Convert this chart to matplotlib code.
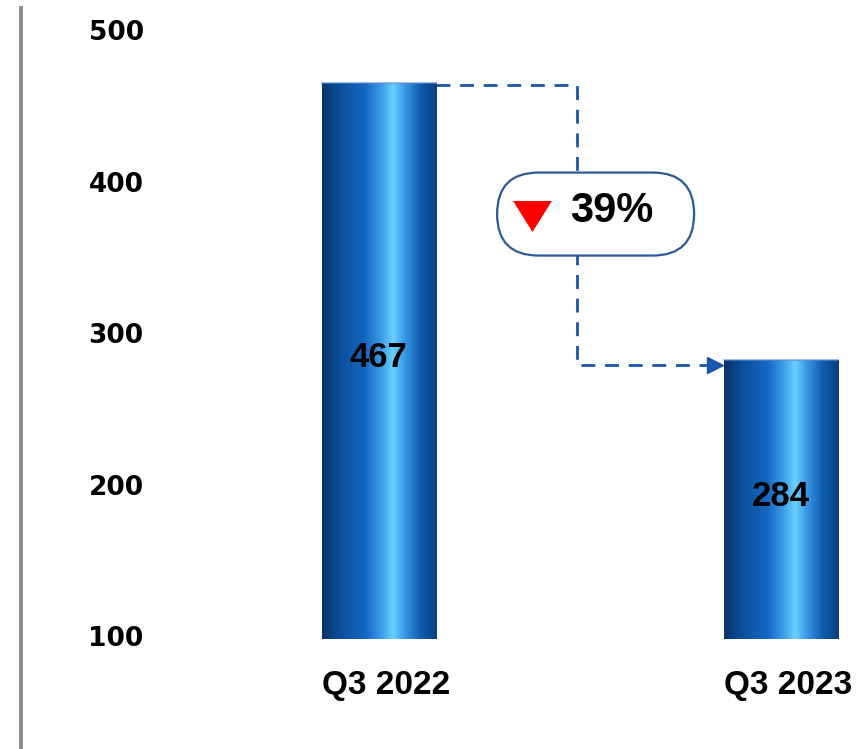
import numpy as np
import matplotlib.pyplot as plt
from matplotlib.colors import LinearSegmentedColormap
from matplotlib.patches import Rectangle, FancyBboxPatch
from matplotlib.transforms import IdentityTransform

categories = ['Q3 2022', 'Q3 2023']
values = [467, 284]
change_label = '39%'
yticks = [100, 200, 300, 400, 500]

base = 100
bar_w = 0.284
label_font = ['Liberation Sans', 'DejaVu Sans']

# cylinder-like shading across each bar
cyl = LinearSegmentedColormap.from_list('cyl', [
    (0.0, '#0a3268'), (0.15, '#0c4d9a'), (0.38, '#1668c4'), (0.52, '#3c9ee8'),
    (0.62, '#6ad0ff'), (0.72, '#3a98e6'), (0.86, '#0f5cb0'), (1.0, '#0a3f80')])

fig = plt.figure(figsize=(8.63, 7.49), dpi=100)
ax = fig.add_axes([21 / 863, 0, 1 - 21 / 863, 1])
xlim = (-0.890, 1.204)
ylim = (27.4, 521.8)

grad = np.linspace(0, 1, 256).reshape(1, -1)
for i, v in enumerate(values):
    x0 = i - bar_w / 2
    im = ax.imshow(grad, cmap=cyl, aspect='auto', extent=[x0, x0 + bar_w, base, v], zorder=2)
    rect = Rectangle((x0, base), bar_w, v - base, transform=ax.transData, facecolor='none', edgecolor='none')
    ax.add_patch(rect)
    im.set_clip_path(rect)
    ax.plot([x0, x0 + bar_w], [v, v], color='#5a8fd0', lw=1.2, alpha=0.7, zorder=3)
    ax.text(i, (base + v) / 2 + 2, str(v), ha='center', va='center',
            fontsize=25, fontweight='bold', family=label_font, zorder=4)
    ax.text(i + 0.018, 69.5, categories[i], ha='center', va='center', fontsize=24,
            fontweight='bold', family=label_font)

for t in yticks:
    ax.text(-0.585, t, str(t), ha='right', va='center', fontsize=19, fontweight='bold',
            family='DejaVu Sans')

ax.set_xlim(*xlim)
ax.set_ylim(*ylim)
ax.set_xticks([])
ax.set_yticks([])
for s in ('top', 'right', 'bottom'):
    ax.spines[s].set_visible(False)
ax.spines['left'].set_color('#8c8c8c')
ax.spines['left'].set_linewidth(2.8)
ax.spines['left'].set_bounds(ylim[0], 516.5)

# dashed step connector between the two bar tops
mid_x = 0.4925
end_x = 1 - bar_w / 2 - 0.01
line_col = '#1856a8'
ax.plot([bar_w / 2, mid_x, mid_x, end_x], [values[0] - 1.5, values[0] - 1.5, values[1] - 3, values[1] - 3],
        color=line_col, lw=2.0, dashes=(5, 3.5), zorder=1)
ax.plot(end_x - 0.012, values[1] - 3, marker='>', markersize=12, color=line_col, mec=line_col, zorder=1)

# rounded badge with the change
fig.canvas.draw()
cx, cy = ax.transData.transform((0.539, 380.5))
w, h = 197, 83
badge = FancyBboxPatch((cx - w / 2, cy - h / 2), w, h, boxstyle=f'round,pad=0,rounding_size={h / 2}',
                       transform=IdentityTransform(), facecolor='white', edgecolor='#2d5a96', lw=1.6,
                       zorder=5, clip_on=False)
ax.add_patch(badge)
down_tri = [(-1, 0.8), (1, 0.8), (0, -0.8), (-1, 0.8)]
ax.plot(0.381, 379.5, marker=down_tri, markersize=28, color='#ff0000', mew=0, zorder=6)
ax.text(0.580, 382.5, change_label, ha='center', va='center', fontsize=30, fontweight='bold',
        family=label_font, zorder=6)

fig.savefig('out.png', dpi=100)
